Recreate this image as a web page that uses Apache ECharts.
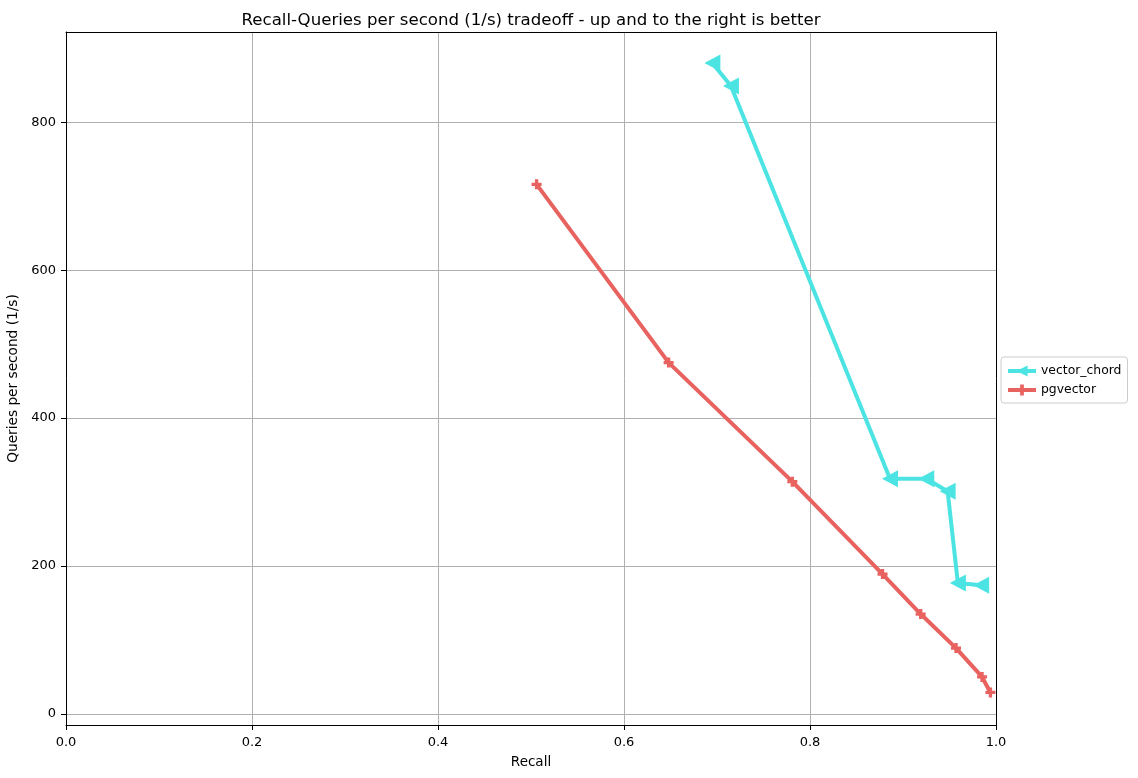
<!DOCTYPE html>
<html>
<head>
<meta charset="utf-8">
<script src="https://cdn.jsdelivr.net/npm/echarts@6/dist/echarts.min.js"></script>
<style>html,body{margin:0;padding:0;background:#fff}#c{width:1138px;height:778px}</style>
</head>
<body>
<div id="c"></div>
<script>
const vectorChordRecall = [0.695, 0.715, 0.886, 0.925, 0.948, 0.959, 0.984];
const vectorChordQps    = [880, 849, 318, 318, 301, 177, 174];
const pgvectorRecall = [0.506, 0.648, 0.781, 0.878, 0.919, 0.957, 0.985, 0.994];
const pgvectorQps    = [716, 475, 314, 189, 135, 89, 50, 29];
const seriesNames = ['vector_chord', 'pgvector'];
const titleText = 'Recall-Queries per second (1/s) tradeoff - up and to the right is better';
const xName = 'Recall';
const yName = 'Queries per second (1/s)';

const zip = (a, b) => a.map((v, i) => [v, b[i]]);
const font = 'DejaVu Sans';
const cyan = '#4ce3e3', red = '#e8625f';
const triPath = 'path://M0,1L2,0L2,2Z';
const plusPath = 'path://M1,0H2V1H3V2H2V3H1V2H0V1H1Z';
const frameAxis = {
  type: 'value', show: true,
  axisLine: {show: true, onZero: false, lineStyle: {color: '#000', width: 1}},
  axisTick: {show: false}, axisLabel: {show: false}, splitLine: {show: false}
};
const chart = echarts.init(document.getElementById('c'), null, {renderer: 'canvas'});
chart.setOption({
  animation: false,
  backgroundColor: '#ffffff',
  title: {
    text: titleText, left: 526, top: 7, textAlign: 'center',
    textStyle: {fontFamily: font, fontSize: 16.6, fontWeight: 'normal', color: '#000'}
  },
  grid: {left: 66, right: 142, top: 32, bottom: 53, outerBoundsMode: 'none', containLabel: false},
  legend: {
    left: 1001, top: 357, orient: 'vertical', itemGap: 7, itemWidth: 28, itemHeight: 14,
    padding: [8, 6, 7, 5], borderColor: '#cccccc', borderWidth: 1, borderRadius: 3,
    textStyle: {fontFamily: font, fontSize: 12.4, color: '#000'},
    lineStyle: {width: 4},
    data: seriesNames
  },
  xAxis: [{
    type: 'value', min: 0, max: 1, interval: 0.2,
    name: xName, nameLocation: 'middle', nameGap: 30,
    nameTextStyle: {fontFamily: font, fontSize: 13.5, color: '#000'},
    axisLine: {show: true, onZero: false, lineStyle: {color: '#000'}},
    axisTick: {show: true, length: 5, lineStyle: {color: '#000'}},
    axisLabel: {fontFamily: font, fontSize: 13, color: '#000', formatter: v => v.toFixed(1), margin: 11},
    splitLine: {show: true, lineStyle: {color: '#b0b0b0', width: 1}}
  }, Object.assign({position: 'top', min: 0, max: 1}, frameAxis)],
  yAxis: [{
    type: 'value', min: -15, max: 922, splitNumber: 5,
    name: yName, nameLocation: 'middle', nameGap: 44, nameRotate: 90,
    nameTextStyle: {fontFamily: font, fontSize: 13.7, color: '#000'},
    axisLine: {show: true, onZero: false, lineStyle: {color: '#000'}},
    axisTick: {show: true, length: 5, lineStyle: {color: '#000'}},
    axisLabel: {fontFamily: font, fontSize: 13, color: '#000', showMinLabel: false, showMaxLabel: false, margin: 10},
    splitLine: {show: true, lineStyle: {color: '#b0b0b0', width: 1}}
  }, Object.assign({position: 'right', min: -15, max: 922}, frameAxis)],
  series: [
    {
      name: seriesNames[0], type: 'line', data: zip(vectorChordRecall, vectorChordQps),
      symbol: triPath, symbolSize: [16, 17], showAllSymbol: true, clip: false,
      lineStyle: {color: cyan, width: 4}, itemStyle: {color: cyan}, z: 3
    },
    {
      name: seriesNames[1], type: 'line', data: zip(pgvectorRecall, pgvectorQps),
      symbol: plusPath, symbolSize: 10, showAllSymbol: true, clip: false,
      lineStyle: {color: red, width: 4}, itemStyle: {color: red}, z: 2
    }
  ]
});
</script>
</body>
</html>
